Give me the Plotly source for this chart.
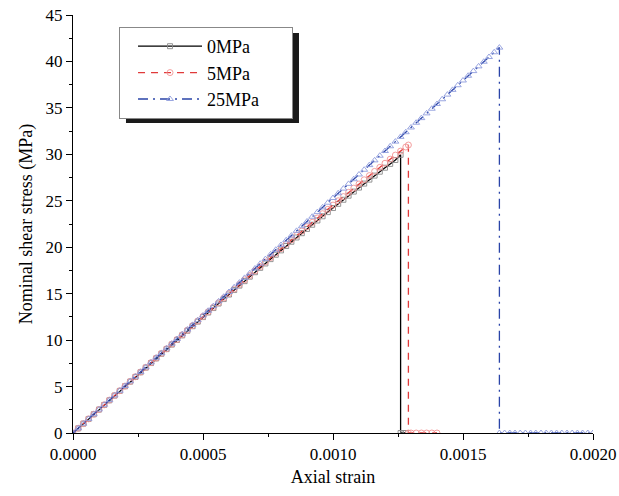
import plotly.graph_objects as go

# ---- data ----
strain_0 = [0.0, 0.00002, 0.00004, 0.00006, 0.00008, 0.0001, 0.00012, 0.00014, 0.00016, 0.00018,
            0.0002, 0.00022, 0.00024, 0.00026, 0.00028, 0.0003, 0.00032, 0.00034, 0.00036, 0.00038,
            0.0004, 0.00042, 0.00044, 0.00046, 0.00048, 0.0005, 0.00052, 0.00054, 0.00056, 0.00058,
            0.0006, 0.00062, 0.00064, 0.00066, 0.00068, 0.0007, 0.00072, 0.00074, 0.00076, 0.00078,
            0.0008, 0.00082, 0.00084, 0.00086, 0.00088, 0.0009, 0.00092, 0.00094, 0.00096, 0.00098,
            0.001, 0.00102, 0.00104, 0.00106, 0.00108, 0.0011, 0.00112, 0.00114, 0.00116, 0.00118,
            0.0012, 0.00122, 0.00124, 0.00126,
            0.00126, 0.00127, 0.00128]
stress_0 = [0.0, 0.50, 1.01, 1.51, 2.02, 2.52, 3.02, 3.52, 4.03, 4.53,
            5.03, 5.53, 6.03, 6.54, 7.04, 7.53, 8.03, 8.53, 9.03, 9.52,
            10.02, 10.51, 11.01, 11.50, 11.99, 12.48, 12.97, 13.45, 13.94, 14.42,
            14.91, 15.39, 15.87, 16.35, 16.83, 17.31, 17.78, 18.25, 18.72, 19.19,
            19.66, 20.13, 20.59, 21.05, 21.51, 21.97, 22.42, 22.88, 23.33, 23.78,
            24.22, 24.67, 25.11, 25.55, 25.99, 26.42, 26.85, 27.28, 27.71, 28.13,
            28.56, 28.97, 29.39, 29.95,
            0.0, 0.0, 0.0]

strain_5 = [0.0, 0.00002, 0.00004, 0.00006, 0.00008, 0.0001, 0.00012, 0.00014, 0.00016, 0.00018,
            0.0002, 0.00022, 0.00024, 0.00026, 0.00028, 0.0003, 0.00032, 0.00034, 0.00036, 0.00038,
            0.0004, 0.00042, 0.00044, 0.00046, 0.00048, 0.0005, 0.00052, 0.00054, 0.00056, 0.00058,
            0.0006, 0.00062, 0.00064, 0.00066, 0.00068, 0.0007, 0.00072, 0.00074, 0.00076, 0.00078,
            0.0008, 0.00082, 0.00084, 0.00086, 0.00088, 0.0009, 0.00092, 0.00094, 0.00096, 0.00098,
            0.001, 0.00102, 0.00104, 0.00106, 0.00108, 0.0011, 0.00112, 0.00114, 0.00116, 0.00118,
            0.0012, 0.00122, 0.00124, 0.00126, 0.00128, 0.00129,
            0.00129, 0.0013, 0.00132, 0.00134, 0.00136, 0.00138, 0.0014]
stress_5 = [0.0, 0.51, 1.01, 1.52, 2.02, 2.53, 3.03, 3.54, 4.04, 4.55,
            5.05, 5.56, 6.06, 6.56, 7.07, 7.57, 8.07, 8.57, 9.07, 9.57,
            10.07, 10.57, 11.07, 11.56, 12.06, 12.56, 13.05, 13.54, 14.03, 14.53,
            15.02, 15.50, 15.99, 16.48, 16.96, 17.45, 17.93, 18.41, 18.89, 19.37,
            19.85, 20.33, 20.80, 21.27, 21.74, 22.21, 22.68, 23.15, 23.61, 24.08,
            24.54, 25.00, 25.45, 25.91, 26.36, 26.81, 27.26, 27.71, 28.16, 28.60,
            29.04, 29.48, 29.92, 30.35, 30.79, 31.0,
            0.0, 0.0, 0.0, 0.0, 0.0, 0.0, 0.0]

strain_25 = [0.0, 0.00002, 0.00004, 0.00006, 0.00008, 0.0001, 0.00012, 0.00014, 0.00016, 0.00018,
             0.0002, 0.00022, 0.00024, 0.00026, 0.00028, 0.0003, 0.00032, 0.00034, 0.00036, 0.00038,
             0.0004, 0.00042, 0.00044, 0.00046, 0.00048, 0.0005, 0.00052, 0.00054, 0.00056, 0.00058,
             0.0006, 0.00062, 0.00064, 0.00066, 0.00068, 0.0007, 0.00072, 0.00074, 0.00076, 0.00078,
             0.0008, 0.00082, 0.00084, 0.00086, 0.00088, 0.0009, 0.00092, 0.00094, 0.00096, 0.00098,
             0.001, 0.00102, 0.00104, 0.00106, 0.00108, 0.0011, 0.00112, 0.00114, 0.00116, 0.00118,
             0.0012, 0.00122, 0.00124, 0.00126, 0.00128, 0.0013, 0.00132, 0.00134, 0.00136, 0.00138,
             0.0014, 0.00142, 0.00144, 0.00146, 0.00148, 0.0015, 0.00152, 0.00154, 0.00156, 0.00158,
             0.0016, 0.00162, 0.00164,
             0.00164, 0.00166, 0.00168, 0.0017, 0.00172, 0.00174, 0.00176, 0.00178, 0.0018, 0.00182,
             0.00184, 0.00186, 0.00188, 0.0019, 0.00192, 0.00194, 0.00196, 0.00198, 0.002]
stress_25 = [0.0, 0.51, 1.01, 1.52, 2.02, 2.53, 3.04, 3.54, 4.05, 4.55,
             5.06, 5.57, 6.07, 6.58, 7.08, 7.59, 8.10, 8.60, 9.11, 9.61,
             10.12, 10.63, 11.13, 11.64, 12.14, 12.65, 13.16, 13.66, 14.17, 14.67,
             15.18, 15.69, 16.19, 16.70, 17.20, 17.71, 18.22, 18.72, 19.23, 19.73,
             20.24, 20.75, 21.25, 21.76, 22.26, 22.77, 23.28, 23.78, 24.29, 24.79,
             25.30, 25.81, 26.31, 26.82, 27.32, 27.83, 28.34, 28.84, 29.35, 29.85,
             30.36, 30.87, 31.37, 31.88, 32.38, 32.89, 33.40, 33.90, 34.41, 34.91,
             35.42, 35.93, 36.43, 36.94, 37.44, 37.95, 38.46, 38.96, 39.47, 39.97,
             40.48, 40.99, 41.49,
             0.0, 0.0, 0.0, 0.0, 0.0, 0.0, 0.0, 0.0, 0.0, 0.0,
             0.0, 0.0, 0.0, 0.0, 0.0, 0.0, 0.0, 0.0, 0.0]

series_names = ["0MPa", "5MPa", "25MPa"]
x_tick_vals = [0.0, 0.0005, 0.001, 0.0015, 0.002]
y_tick_vals = [0, 5, 10, 15, 20, 25, 30, 35, 40, 45]

FONT = "Liberation Serif, Times New Roman, serif"
PAD = "\u00a0" * 6

fig = go.Figure()
fig.add_trace(go.Scatter(
    x=strain_0, y=stress_0, name=series_names[0] + PAD, mode="lines+markers",
    line=dict(color="black", width=1.3),
    marker=dict(symbol="square-open", size=5, color="#8a8a8a", line=dict(width=0.9)),
))
fig.add_trace(go.Scatter(
    x=strain_5, y=stress_5, name=series_names[1] + PAD, mode="lines+markers",
    line=dict(color="#e03a3a", width=1.3, dash="7px,6px"),
    marker=dict(symbol="circle-open", size=6, color="#f29494", line=dict(width=0.9)),
))
fig.add_trace(go.Scatter(
    x=strain_25, y=stress_25, name=series_names[2] + PAD, mode="lines+markers",
    line=dict(color="#2a44a8", width=1.3, dash="10px,5px,2px,5px"),
    marker=dict(symbol="triangle-up-open", size=6, color="#8f9cdc", line=dict(width=0.9)),
))

# legend shadow
fig.add_shape(type="rect", xref="paper", yref="paper",
              x0=0.1019, x1=0.4346, y0=0.7416, y1=0.9569,
              fillcolor="#1a1a1a", line=dict(width=0), layer="above")

fig.update_layout(
    width=619, height=496,
    margin=dict(l=73, r=26, t=15, b=63),
    paper_bgcolor="white", plot_bgcolor="white",
    font=dict(family=FONT, size=17, color="black"),
    showlegend=True,
    legend=dict(x=0.0885, y=0.9713, xanchor="left", yanchor="top",
                bgcolor="white", bordercolor="#888888", borderwidth=1,
                font=dict(family=FONT, size=18), itemwidth=64, indentation=13,
                tracegroupgap=0, traceorder="normal"),
    xaxis=dict(range=[0, 0.002], tickvals=x_tick_vals, tickformat=".4f", automargin=False,
               showgrid=False, zeroline=False, showline=True, linecolor="black", linewidth=1,
               ticks="outside", ticklen=6, tickcolor="black",
               minor=dict(ticks="outside", ticklen=3, dtick=0.00025, tickcolor="black"),
               title=dict(text="Axial strain", standoff=6, font=dict(size=18)),
               tickfont=dict(size=17)),
    yaxis=dict(range=[0, 45], tickvals=y_tick_vals, automargin=False,
               showgrid=False, zeroline=False, showline=True, linecolor="black", linewidth=1,
               ticks="outside", ticklen=6, tickcolor="black",
               minor=dict(ticks="outside", ticklen=3, dtick=2.5, tickcolor="black"),
               title=dict(text="Nominal shear stress (MPa)", standoff=8, font=dict(size=18)),
               tickfont=dict(size=17)),
)

fig.write_html("out.html")
